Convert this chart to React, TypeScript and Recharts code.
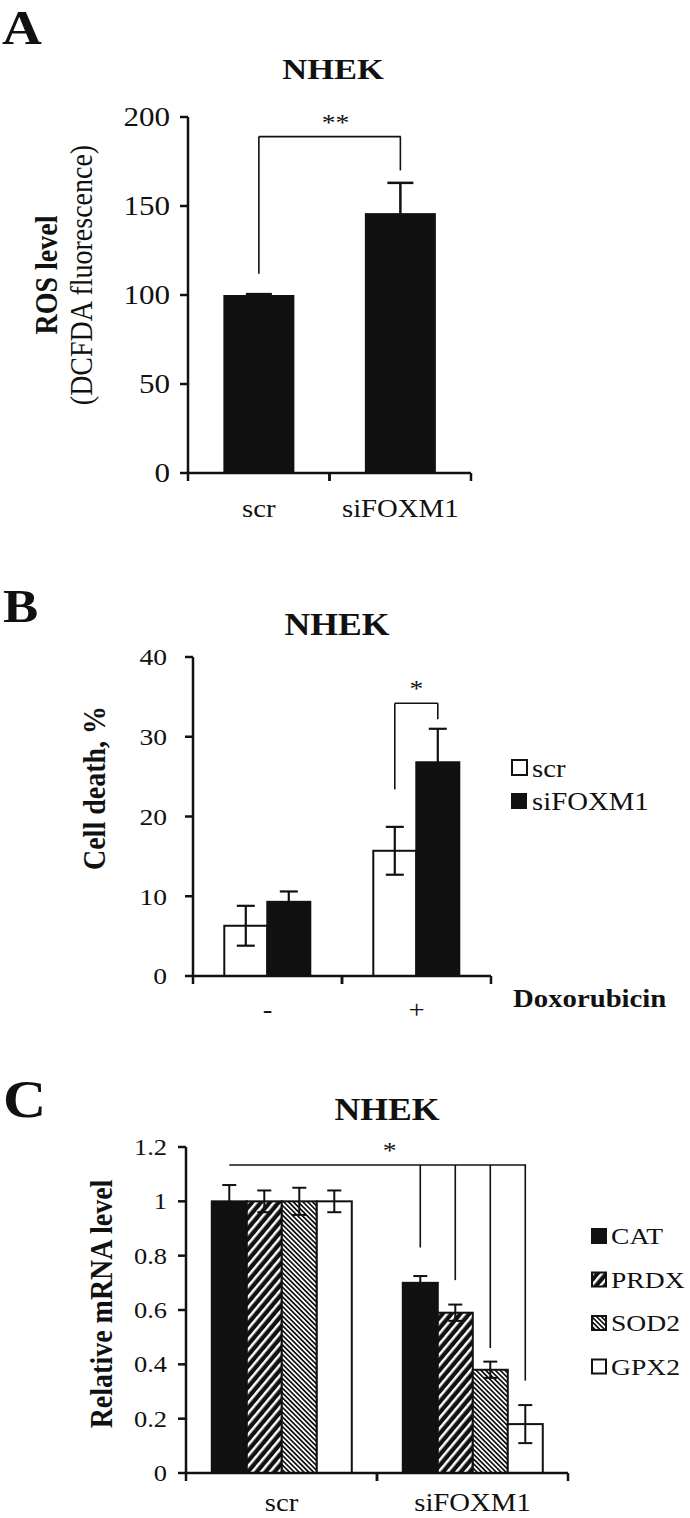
import React from "react";
import { BarChart, Bar, XAxis, YAxis, ErrorBar } from "recharts";

const SERIF = "'Liberation Serif', 'Times New Roman', Times, serif";
const INK = "#111";
// the source figure is slightly stretched sideways, text follows it
const SX = 1.15;

// ---- panel A: ROS level
const rosGroups = ["scr", "siFOXM1"];
const rosLevel = [100, 146];
const rosErr = [0.5, 17];
const rosTicks = [0, 50, 100, 150, 200];
const rosBracket = { top: 189, legs: [112, 170], mark: "**" };

// ---- panel B: cell death
const doxGroups = ["-", "+"];
const scrDeath = [6.3, 15.7];
const scrDeathErr = [2.5, 3.0];
const siDeath = [9.3, 26.8];
const siDeathErr = [1.3, 4.2];
const deathTicks = [0, 10, 20, 30, 40];
const deathBracket = { group: 1, top: 34.2, legs: [23.4, 32.2], mark: "*" };

// ---- panel C: relative mRNA
const mrnaGroups = ["scr", "siFOXM1"];
const genes = ["CAT", "PRDX", "SOD2", "GPX2"];
const catLevel = [1.0, 0.7];
const catErr = [0.06, 0.025];
const prdxLevel = [1.0, 0.59];
const prdxErr = [0.04, 0.03];
const sod2Level = [1.0, 0.38];
const sod2Err = [0.05, 0.03];
const gpx2Level = [1.0, 0.18];
const gpx2Err = [0.04, 0.07];
const mrnaTicks = [0, 0.2, 0.4, 0.6, 0.8, 1, 1.2];
const mrnaBracket = { top: 1.134, legs: [0.83, 0.71, 0.46, 0.34], mark: "*" };

const rosData = rosGroups.map((g, i) => ({ group: g, level: rosLevel[i], err: rosErr[i] }));
const deathData = doxGroups.map((g, i) => ({
  group: g,
  scr: scrDeath[i],
  scrErr: scrDeathErr[i],
  si: siDeath[i],
  siErr: siDeathErr[i]
}));
const geneLevels = [catLevel, prdxLevel, sod2Level, gpx2Level];
const geneErrs = [catErr, prdxErr, sod2Err, gpx2Err];
const mrnaData = mrnaGroups.map((g, i) => {
  const row: any = { group: g };
  genes.forEach((k, j) => {
    row[k] = geneLevels[j][i];
    row[k + "err"] = geneErrs[j][i];
  });
  return row;
});

const geneFill: Record<string, string> = {
  CAT: INK,
  PRDX: "url(#prdx)",
  SOD2: "url(#sod2)",
  GPX2: "#fff"
};

const A_GAP = 0.25;
const B_GAP = 0.21;
const C_GAP = 0.135;

function Txt({ x, y, size, bold = false, anchor = "start", rotate = false, dy, children }: any) {
  const t = rotate
    ? `translate(${x},${y}) rotate(-90) scale(1,${SX})`
    : `translate(${x},${y}) scale(${SX},1)`;
  return (
    <text
      transform={t}
      dy={dy}
      fontFamily={SERIF}
      fontSize={size}
      fontWeight={bold ? "bold" : "normal"}
      textAnchor={anchor}
      fill={INK}
    >
      {children}
    </text>
  );
}

const yTick = (size: number) => (p: any) => (
  <Txt x={p.x} y={p.y} dy="0.35em" size={size} anchor="end">
    {String(p.payload.value)}
  </Txt>
);

// category labels centred, tick marks on the category boundaries
const xTick = (size: number, half: number, dy: number) => (p: any) => (
  <g>
    <line x1={p.x - half} x2={p.x - half} y1={p.y} y2={p.y + 8} stroke={INK} strokeWidth={2.5} />
    <line x1={p.x + half} x2={p.x + half} y1={p.y} y2={p.y + 8} stroke={INK} strokeWidth={2.5} />
    <Txt x={p.x} y={p.y + dy} size={size} anchor="middle">
      {p.payload.value}
    </Txt>
  </g>
);

// pixel y of a value, taken from the bar the library drew
const toY = (p: any, key: string) => (v: number) => p.y + p.height - (v * p.height) / p.payload[key];

const bracketLine = { stroke: INK, strokeWidth: 1.6 };

function rosShape(p: any) {
  const cx = p.x + p.width / 2;
  const yv = toY(p, "level");
  const band = p.width / (1 - 2 * A_GAP);
  const top = yv(rosBracket.top);
  return (
    <g>
      <rect x={p.x} y={p.y} width={p.width} height={p.height} fill={INK} />
      <line x1={cx} x2={cx} y1={top} y2={yv(rosBracket.legs[p.index])} {...bracketLine} />
      {p.index === 0 && (
        <g>
          <line x1={cx} x2={cx + band} y1={top} y2={top} {...bracketLine} />
          <Txt x={cx + band * 0.54} y={top - 7} size={24} anchor="middle">
            {rosBracket.mark}
          </Txt>
        </g>
      )}
    </g>
  );
}

const deathShape = (key: string, fill: string, leg: number) => (p: any) => {
  const cx = p.x + p.width / 2;
  const yv = toY(p, key);
  const top = yv(deathBracket.top);
  const on = p.index === deathBracket.group;
  return (
    <g>
      <rect x={p.x} y={p.y} width={p.width} height={p.height} fill={fill} stroke={INK} strokeWidth={2} />
      {on && <line x1={cx} x2={cx} y1={top} y2={yv(deathBracket.legs[leg])} {...bracketLine} />}
      {on && leg === 0 && (
        <g>
          <line x1={cx} x2={cx + p.width} y1={top} y2={top} {...bracketLine} />
          <Txt x={cx + p.width / 2} y={top - 7} size={24} anchor="middle">
            {deathBracket.mark}
          </Txt>
        </g>
      )}
    </g>
  );
};

const geneShape = (key: string, leg: number) => (p: any) => {
  const cx = p.x + p.width / 2;
  const yv = toY(p, key);
  const top = yv(mrnaBracket.top);
  const band = (genes.length * p.width) / (1 - 2 * C_GAP);
  const span = band + (genes.length - 1) * p.width;
  return (
    <g>
      <rect x={p.x} y={p.y} width={p.width} height={p.height} fill={geneFill[key]} stroke={INK} strokeWidth={2} />
      {p.index === 1 && <line x1={cx} x2={cx} y1={top} y2={yv(mrnaBracket.legs[leg])} {...bracketLine} />}
      {p.index === 0 && leg === 0 && (
        <g>
          <line x1={cx} x2={cx + span} y1={top} y2={top} {...bracketLine} />
          <Txt x={cx + span * 0.54} y={top - 7} size={24} anchor="middle">
            {mrnaBracket.mark}
          </Txt>
        </g>
      )}
    </g>
  );
};

const axisStroke = { stroke: INK, strokeWidth: 2.5 };

export default function App() {
  return (
    <div style={{ position: "absolute", left: 0, top: 0, width: 690, height: 1518, background: "#fff", overflow: "hidden" }}>
      <svg width={0} height={0} style={{ position: "absolute" }}>
        <defs>
          <pattern id="prdx" width={6.8} height={6.8} patternUnits="userSpaceOnUse" patternTransform="rotate(40)">
            <rect width={6.8} height={6.8} fill={INK} />
            <rect width={2.5} height={6.8} fill="#fff" />
          </pattern>
          <pattern id="sod2" width={3.4} height={3.4} patternUnits="userSpaceOnUse" patternTransform="rotate(-45)">
            <rect width={3.4} height={3.4} fill="#fff" />
            <rect width={1.7} height={3.4} fill={INK} />
          </pattern>
        </defs>
      </svg>

      {/* A */}
      <div style={{ position: "absolute", left: 0, top: 0 }}>
        <BarChart width={690} height={540} data={rosData} margin={{ top: 117, right: 219, bottom: 27, left: 128 }} barCategoryGap={`${A_GAP * 100}%`}>
          <XAxis dataKey="group" height={40} interval={0} tickSize={0} tickMargin={0} tickLine={false} axisLine={axisStroke} tick={xTick(25, 70.75, 44)} />
          <YAxis width={60} domain={[0, 200]} ticks={rosTicks} interval={0} tickSize={8} tickMargin={10} tickLine={axisStroke} axisLine={axisStroke} tick={yTick(27)} />
          <Bar dataKey="level" shape={rosShape} isAnimationActive={false}>
            <ErrorBar dataKey="err" width={13} stroke={INK} strokeWidth={2.5} isAnimationActive={false} />
          </Bar>
        </BarChart>
      </div>

      {/* B */}
      <div style={{ position: "absolute", left: 0, top: 560 }}>
        <BarChart width={690} height={470} data={deathData} margin={{ top: 97, right: 199, bottom: 14, left: 133 }} barCategoryGap={`${B_GAP * 100}%`} barGap={0}>
          <XAxis dataKey="group" height={40} interval={0} tickSize={0} tickMargin={0} tickLine={false} axisLine={axisStroke} tick={xTick(25, 74.5, 42)} />
          <YAxis width={60} domain={[0, 40]} ticks={deathTicks} interval={0} tickSize={8} tickMargin={18} tickLine={axisStroke} axisLine={axisStroke} tick={yTick(24)} />
          <Bar dataKey="scr" shape={deathShape("scr", "#fff", 0)} isAnimationActive={false}>
            <ErrorBar dataKey="scrErr" width={9} stroke={INK} strokeWidth={2.2} isAnimationActive={false} />
          </Bar>
          <Bar dataKey="si" shape={deathShape("si", INK, 1)} isAnimationActive={false}>
            <ErrorBar dataKey="siErr" width={9} stroke={INK} strokeWidth={2.2} isAnimationActive={false} />
          </Bar>
        </BarChart>
      </div>

      {/* C */}
      <div style={{ position: "absolute", left: 0, top: 1030 }}>
        <BarChart width={690} height={488} data={mrnaData} margin={{ top: 117, right: 122, bottom: 0, left: 126 }} barCategoryGap={`${C_GAP * 100}%`} barGap={0}>
          <XAxis dataKey="group" height={45} interval={0} tickSize={0} tickMargin={0} tickLine={false} axisLine={axisStroke} tick={xTick(25, 95.5, 38)} />
          <YAxis width={60} domain={[0, 1.2]} ticks={mrnaTicks} interval={0} tickSize={8} tickMargin={11} tickLine={axisStroke} axisLine={axisStroke} tick={yTick(23)} />
          {genes.map((k, j) => (
            <Bar key={k} dataKey={k} shape={geneShape(k, j)} isAnimationActive={false}>
              <ErrorBar dataKey={k + "err"} width={7} stroke={INK} strokeWidth={2} isAnimationActive={false} />
            </Bar>
          ))}
        </BarChart>
      </div>

      {/* titles, axis titles, legends */}
      <svg width={690} height={1518} style={{ position: "absolute", left: 0, top: 0, pointerEvents: "none" }}>
        <Txt x={2} y={44} size={48} bold>A</Txt>
        <Txt x={333} y={79} size={30} bold anchor="middle">NHEK</Txt>
        <Txt x={57} y={275} size={28} bold anchor="middle" rotate>ROS level</Txt>
        <Txt x={92} y={275} size={28} anchor="middle" rotate>(DCFDA fluorescence)</Txt>

        <Txt x={3} y={622} size={46} bold>B</Txt>
        <Txt x={337} y={635} size={31} bold anchor="middle">NHEK</Txt>
        <Txt x={105} y={788} size={28} bold anchor="middle" rotate>Cell death, %</Txt>
        <Txt x={513} y={1007} size={25} bold>Doxorubicin</Txt>
        <rect x={512} y={760} width={15} height={15} fill="#fff" stroke={INK} strokeWidth={2} />
        <Txt x={532} y={777} size={25}>scr</Txt>
        <rect x={511} y={793} width={16} height={16} fill={INK} />
        <Txt x={532} y={810} size={25}>siFOXM1</Txt>

        <Txt x={3} y={1117} size={52} bold>C</Txt>
        <Txt x={387} y={1120} size={31} bold anchor="middle">NHEK</Txt>
        <Txt x={112} y={1304} size={28} bold anchor="middle" rotate>Relative mRNA level</Txt>
        {genes.map((k, j) => (
          <g key={k}>
            <rect x={592} y={1229 + j * 43.5} width={14} height={14} fill={geneFill[k]} stroke={INK} strokeWidth={2} />
            <Txt x={611} y={1244 + j * 43.5} size={24}>{k}</Txt>
          </g>
        ))}
      </svg>
    </div>
  );
}
